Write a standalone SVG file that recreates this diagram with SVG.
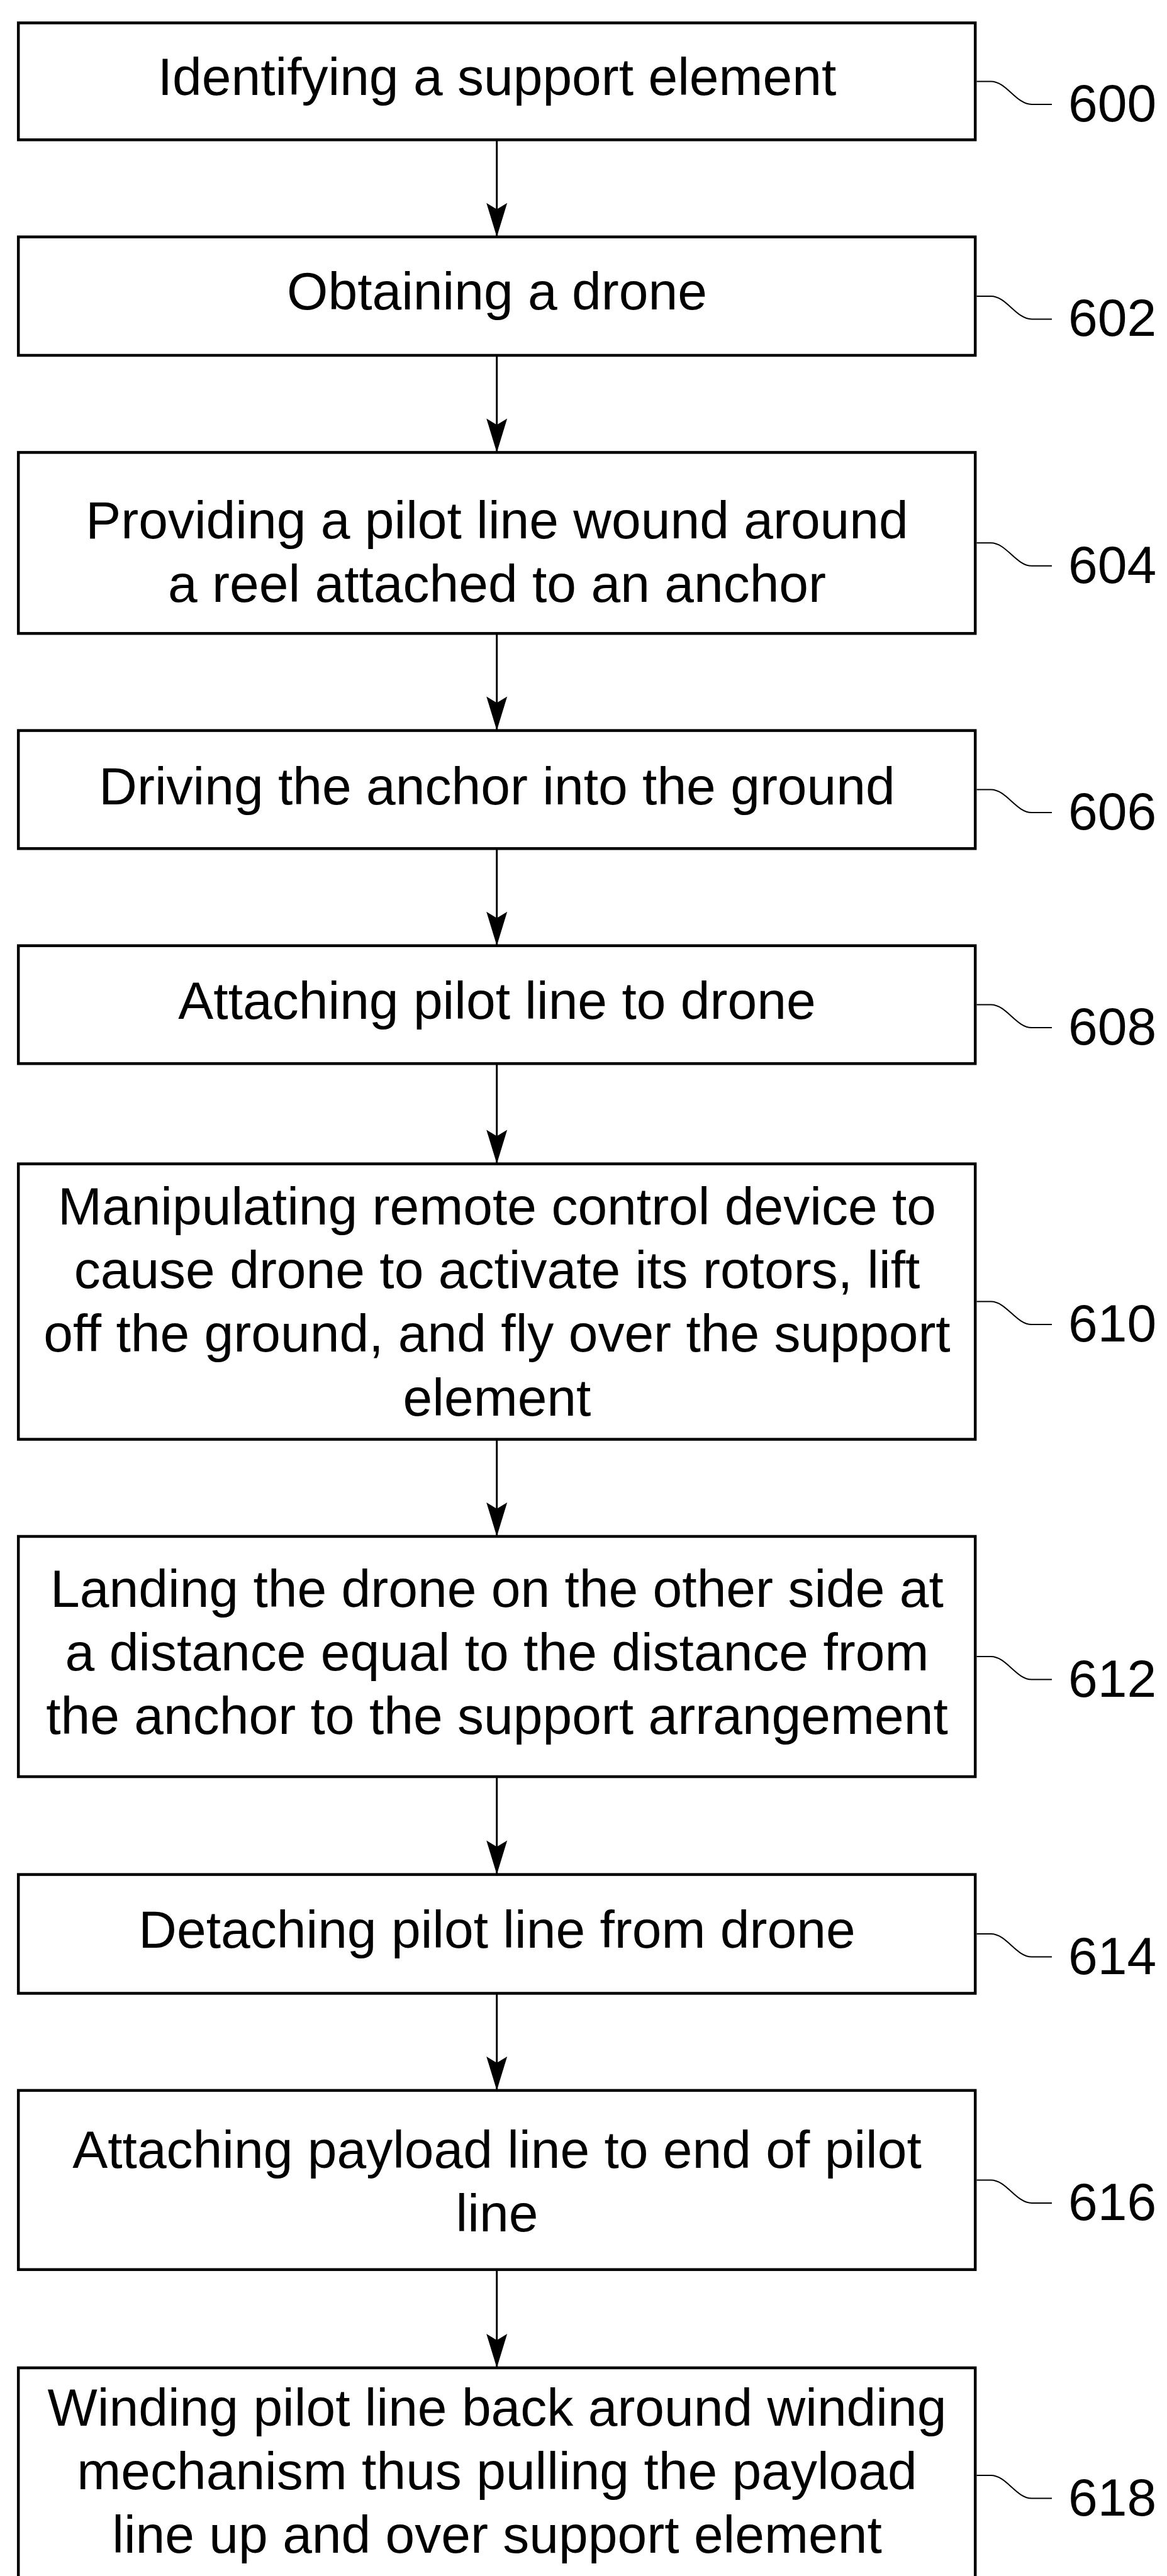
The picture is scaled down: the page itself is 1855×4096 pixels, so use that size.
<svg xmlns="http://www.w3.org/2000/svg" width="1855" height="4096" viewBox="0 0 1855 4096">
  <defs>
    <style>
      .box { fill: #ffffff; stroke: #000000; stroke-width: 4.5; }
      .txt { font-family: "Liberation Sans", Arial, Helvetica, sans-serif; font-size: 84px; fill: #000000; text-anchor: middle; }
      .ref { font-family: "Liberation Sans", Arial, Helvetica, sans-serif; font-size: 84px; fill: #000000; }
      .lead { fill: none; stroke: #000000; stroke-width: 2; }
      .flow { fill: none; stroke: #000000; stroke-width: 3; marker-end: url(#arrow); }
    </style>
    <!-- notched arrowhead, tip at the end of the connector -->
    <marker id="arrow" markerUnits="userSpaceOnUse" viewBox="-56 -18 58 36" markerWidth="58" markerHeight="36" refX="0" refY="0" orient="auto">
      <path d="M0,0 L-54,-16.5 L-44,0 L-54,16.5 Z" fill="#000000"/>
    </marker>
  </defs>

  <rect width="1855" height="4096" fill="#ffffff"/>

  <!-- flow connectors between the steps -->
  <g id="connectors">
    <line class="flow" x1="789.7" y1="222.3" x2="789.7" y2="376.7"/>
    <line class="flow" x1="789.7" y1="565.0" x2="789.7" y2="719.4"/>
    <line class="flow" x1="789.7" y1="1007.2" x2="789.7" y2="1161.6"/>
    <line class="flow" x1="789.7" y1="1349.3" x2="789.7" y2="1503.7"/>
    <line class="flow" x1="789.7" y1="1691.2" x2="789.7" y2="1850.6"/>
    <line class="flow" x1="789.7" y1="2288.6" x2="789.7" y2="2443.0"/>
    <line class="flow" x1="789.7" y1="2825.0" x2="789.7" y2="2980.6"/>
    <line class="flow" x1="789.7" y1="3169.5" x2="789.7" y2="3323.9"/>
    <line class="flow" x1="789.7" y1="3608.8" x2="789.7" y2="3764.9"/>
  </g>

  <g id="step-600">
    <rect class="box" x="29.2" y="36.4" width="1521" height="185.9"/>
    <text class="txt" x="790" y="151.4">Identifying a support element</text>
    <path class="lead" d="M1552.5,129.4 L1575,129.4 C1600,129.4 1615,165.9 1640,165.9 L1672,165.9"/>
    <text class="ref" x="1698" y="192.9">600</text>
  </g>

  <g id="step-602">
    <rect class="box" x="29.2" y="376.7" width="1521" height="188.3"/>
    <text class="txt" x="790" y="492.2">Obtaining a drone</text>
    <path class="lead" d="M1552.5,470.9 L1575,470.9 C1600,470.9 1615,507.4 1640,507.4 L1672,507.4"/>
    <text class="ref" x="1698" y="534.4">602</text>
  </g>

  <g id="step-604">
    <rect class="box" x="29.2" y="719.4" width="1521" height="287.8"/>
    <text class="txt" x="790" y="855.9">Providing a pilot line wound around</text>
    <text class="txt" x="790" y="957.2">a reel attached to an anchor</text>
    <path class="lead" d="M1552.5,863.3 L1575,863.3 C1600,863.3 1615,899.8 1640,899.8 L1672,899.8"/>
    <text class="ref" x="1698" y="926.8">604</text>
  </g>

  <g id="step-606">
    <rect class="box" x="29.2" y="1161.6" width="1521" height="187.7"/>
    <text class="txt" x="790" y="1278.7">Driving the anchor into the ground</text>
    <path class="lead" d="M1552.5,1255.5 L1575,1255.5 C1600,1255.5 1615,1292 1640,1292 L1672,1292"/>
    <text class="ref" x="1698" y="1319">606</text>
  </g>

  <g id="step-608">
    <rect class="box" x="29.2" y="1503.7" width="1521" height="187.5"/>
    <text class="txt" x="790" y="1619.5">Attaching pilot line to drone</text>
    <path class="lead" d="M1552.5,1597.5 L1575,1597.5 C1600,1597.5 1615,1634 1640,1634 L1672,1634"/>
    <text class="ref" x="1698" y="1661">608</text>
  </g>

  <g id="step-610">
    <rect class="box" x="29.2" y="1850.6" width="1521" height="438"/>
    <text class="txt" x="790" y="1946.6">Manipulating remote control device to</text>
    <text class="txt" x="790" y="2047.9">cause drone to activate its rotors, lift</text>
    <text class="txt" x="790" y="2149.2">off the ground, and fly over the support</text>
    <text class="txt" x="790" y="2250.5">element</text>
    <path class="lead" d="M1552.5,2069.6 L1575,2069.6 C1600,2069.6 1615,2106.1 1640,2106.1 L1672,2106.1"/>
    <text class="ref" x="1698" y="2133.1">610</text>
  </g>

  <g id="step-612">
    <rect class="box" x="29.2" y="2443.0" width="1521" height="382"/>
    <text class="txt" x="790" y="2554.8">Landing the drone on the other side at</text>
    <text class="txt" x="790" y="2655.8">a distance equal to the distance from</text>
    <text class="txt" x="790" y="2757.1">the anchor to the support arrangement</text>
    <path class="lead" d="M1552.5,2634 L1575,2634 C1600,2634 1615,2670.5 1640,2670.5 L1672,2670.5"/>
    <text class="ref" x="1698" y="2697.5">612</text>
  </g>

  <g id="step-614">
    <rect class="box" x="29.2" y="2980.6" width="1521" height="188.9"/>
    <text class="txt" x="790" y="3097">Detaching pilot line from drone</text>
    <path class="lead" d="M1552.5,3075 L1575,3075 C1600,3075 1615,3111.5 1640,3111.5 L1672,3111.5"/>
    <text class="ref" x="1698" y="3138.5">614</text>
  </g>

  <g id="step-616">
    <rect class="box" x="29.2" y="3323.9" width="1521" height="284.9"/>
    <text class="txt" x="790" y="3446.7">Attaching payload line to end of pilot</text>
    <text class="txt" x="790" y="3548">line</text>
    <path class="lead" d="M1552.5,3466.4 L1575,3466.4 C1600,3466.4 1615,3502.9 1640,3502.9 L1672,3502.9"/>
    <text class="ref" x="1698" y="3529.9">616</text>
  </g>

  <!-- last step runs past the lower edge of the sheet -->
  <g id="step-618">
    <path class="box" d="M29.2,4100 V3764.9 H1550.2 V4100"/>
    <text class="txt" x="790" y="3856.5">Winding pilot line back around winding</text>
    <text class="txt" x="790" y="3957.8">mechanism thus pulling the payload</text>
    <text class="txt" x="790" y="4059">line up and over support element</text>
    <path class="lead" d="M1552.5,3936 L1575,3936 C1600,3936 1615,3972.5 1640,3972.5 L1672,3972.5"/>
    <text class="ref" x="1698" y="3999.5">618</text>
  </g>
</svg>
